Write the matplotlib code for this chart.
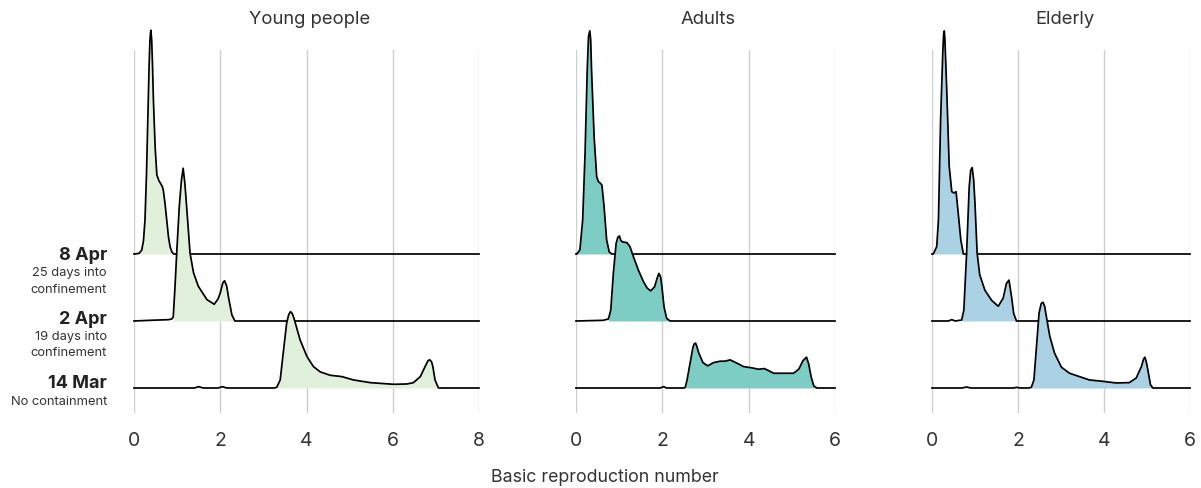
import matplotlib
matplotlib.use("Agg")
import matplotlib.pyplot as plt
import matplotlib.transforms as mtransforms
import numpy as np

plt.rcParams['font.family'] = ['Inter', 'DejaVu Sans']

# ---------------- data ----------------
panel_titles = ["Young people", "Adults", "Elderly"]
panel_xmax = [8, 6, 6]
panel_ticks = [[0, 2, 4, 6, 8], [0, 2, 4, 6], [0, 2, 4, 6]]
panel_colors = ["#e0f0da", "#7ecdc4", "#aad2e4"]
dates = ["14 Mar", "2 Apr", "8 Apr"]
notes_lines = [["No containment"], ["19 days into", "confinement"], ["25 days into", "confinement"]]

# Young people
young_mar14_x = [0, 1.40, 1.50, 1.60, 1.95, 2.05, 2.15, 3.25, 3.31, 3.39, 3.46, 3.54, 3.59, 3.63, 3.67, 3.71, 3.78, 3.85, 4.01, 4.16, 4.32, 4.55, 4.82, 5.09, 5.48, 6.02, 6.33, 6.48, 6.64, 6.75, 6.82, 6.86, 6.90, 6.93, 6.98, 7.06, 8]
young_mar14_h = [0, 0, 0.02, 0, 0, 0.02, 0, 0, 0.01, 0.12, 0.52, 0.97, 1.10, 1.14, 1.11, 1.04, 0.88, 0.72, 0.47, 0.32, 0.24, 0.19, 0.17, 0.12, 0.08, 0.055, 0.06, 0.08, 0.17, 0.32, 0.41, 0.42, 0.39, 0.32, 0.12, 0.0, 0]
young_apr2_x = [0, 0.37, 0.80, 0.875, 0.91, 0.95, 0.99, 1.05, 1.10, 1.14, 1.18, 1.22, 1.30, 1.38, 1.49, 1.69, 1.86, 1.95, 2.00, 2.06, 2.10, 2.15, 2.19, 2.27, 2.34, 8]
young_apr2_h = [0, 0.01, 0.02, 0.03, 0.06, 0.5, 1.01, 1.71, 2.10, 2.28, 2.05, 1.71, 1.01, 0.72, 0.52, 0.32, 0.25, 0.33, 0.42, 0.57, 0.60, 0.52, 0.36, 0.09, 0, 0]
young_apr8_x = [0, 0.02, 0.12, 0.18, 0.22, 0.255, 0.29, 0.32, 0.35, 0.37, 0.39, 0.41, 0.43, 0.45, 0.49, 0.53, 0.58, 0.62, 0.66, 0.68, 0.72, 0.76, 0.80, 0.84, 0.88, 0.92, 8]
young_apr8_h = [0, 0, 0.01, 0.06, 0.2, 0.51, 1.2, 2.0, 2.8, 3.2, 3.34, 3.2, 2.8, 2.3, 1.6, 1.18, 1.09, 1.05, 1.0, 0.95, 0.75, 0.5, 0.25, 0.1, 0.03, 0, 0]

# Adults
adults_mar14_x = [0, 1.95, 2.03, 2.10, 2.50, 2.53, 2.57, 2.645, 2.71, 2.74, 2.77, 2.80, 2.84, 2.94, 3.05, 3.19, 3.34, 3.45, 3.57, 3.73, 3.88, 4.08, 4.23, 4.36, 4.46, 4.58, 4.77, 5.04, 5.16, 5.26, 5.34, 5.39, 5.45, 5.51, 5.58, 6]
adults_mar14_h = [0, 0, 0.02, 0, 0, 0.01, 0.11, 0.38, 0.61, 0.66, 0.67, 0.62, 0.53, 0.38, 0.33, 0.38, 0.40, 0.40, 0.42, 0.37, 0.32, 0.30, 0.28, 0.29, 0.26, 0.22, 0.22, 0.22, 0.28, 0.41, 0.46, 0.36, 0.16, 0.03, 0, 0]
adults_apr2_x = [0, 0.63, 0.75, 0.805, 0.865, 0.93, 0.97, 1.005, 1.04, 1.08, 1.18, 1.25, 1.33, 1.445, 1.56, 1.65, 1.73, 1.82, 1.88, 1.92, 1.96, 1.99, 2.04, 2.10, 2.18, 6]
adults_apr2_h = [0, 0.01, 0.03, 0.16, 0.71, 1.16, 1.25, 1.27, 1.20, 1.18, 1.17, 1.11, 0.96, 0.76, 0.59, 0.49, 0.45, 0.51, 0.64, 0.71, 0.66, 0.51, 0.21, 0.04, 0, 0]
adults_apr8_x = [0, 0.02, 0.09, 0.155, 0.21, 0.26, 0.29, 0.32, 0.34, 0.36, 0.42, 0.48, 0.52, 0.56, 0.60, 0.65, 0.71, 0.77, 0.83, 6]
adults_apr8_h = [0, 0, 0.06, 0.51, 1.51, 2.75, 3.25, 3.33, 3.20, 2.75, 1.75, 1.15, 1.08, 1.06, 1.03, 0.71, 0.21, 0.03, 0, 0]

# Elderly
elderly_mar14_x = [0, 0.70, 0.805, 0.90, 1.90, 1.965, 2.05, 2.25, 2.31, 2.37, 2.43, 2.49, 2.54, 2.58, 2.62, 2.645, 2.74, 2.85, 3.01, 3.20, 3.43, 3.66, 3.97, 4.285, 4.59, 4.75, 4.87, 4.92, 4.95, 4.98, 5.02, 5.08, 5.135, 6]
elderly_mar14_h = [0, 0, 0.015, 0, 0, 0.01, 0, 0, 0.01, 0.12, 0.62, 1.12, 1.26, 1.28, 1.22, 1.12, 0.77, 0.52, 0.31, 0.22, 0.17, 0.12, 0.10, 0.075, 0.08, 0.15, 0.32, 0.43, 0.46, 0.40, 0.27, 0.05, 0, 0]
elderly_apr2_x = [0, 0.38, 0.46, 0.54, 0.69, 0.74, 0.805, 0.865, 0.90, 0.935, 0.97, 1.00, 1.05, 1.11, 1.23, 1.385, 1.54, 1.655, 1.73, 1.79, 1.85, 1.90, 1.965, 6]
elderly_apr2_h = [0, 0, 0.02, 0, 0.015, 0.16, 1.01, 2.0, 2.25, 2.29, 2.1, 1.75, 1.01, 0.69, 0.46, 0.31, 0.22, 0.34, 0.56, 0.61, 0.36, 0.11, 0, 0]
elderly_apr8_x = [0, 0.03, 0.11, 0.15, 0.20, 0.25, 0.27, 0.285, 0.30, 0.34, 0.40, 0.46, 0.51, 0.56, 0.61, 0.67, 0.73, 6]
elderly_apr8_h = [0, 0, 0.11, 0.51, 2.0, 2.99, 3.28, 3.33, 3.2, 2.5, 1.31, 0.93, 0.91, 0.93, 0.61, 0.21, 0, 0]

# shaded interval (low, high) per curve, order: 14 Mar, 2 Apr, 8 Apr
young_fill = [(3.31, 7.06), (0.91, 2.34), (0.12, 0.88)]
adults_fill = [(2.53, 5.58), (0.75, 2.18), (0.02, 0.83)]
elderly_fill = [(2.31, 5.135), (0.69, 1.965), (0.03, 0.73)]

curves = [
    [(young_mar14_x, young_mar14_h), (young_apr2_x, young_apr2_h), (young_apr8_x, young_apr8_h)],
    [(adults_mar14_x, adults_mar14_h), (adults_apr2_x, adults_apr2_h), (adults_apr8_x, adults_apr8_h)],
    [(elderly_mar14_x, elderly_mar14_h), (elderly_apr2_x, elderly_apr2_h), (elderly_apr8_x, elderly_apr8_h)],
]
fills = [young_fill, adults_fill, elderly_fill]

# ---------------- layout ----------------
W, H = 1201, 488
fig = plt.figure(figsize=(W / 100, H / 100), dpi=100)

ax_left_px = [134, 576, 932]
ax_w_px = [345, 259, 258]
ax_top_px, ax_bot_px = 50, 413
px_per_unit = 67.0
base_px = 388.0
ylo = -(ax_bot_px - base_px) / px_per_unit
yhi = (base_px - ax_top_px) / px_per_unit
title_x = [0.51, 0.511, 0.514]

axes = []
for i in range(3):
    ax = fig.add_axes([ax_left_px[i] / W, 1 - ax_bot_px / H, ax_w_px[i] / W, (ax_bot_px - ax_top_px) / H])
    axes.append(ax)
    ax.set_xlim(0, panel_xmax[i])
    ax.set_ylim(ylo, yhi)
    for s in ax.spines.values():
        s.set_visible(False)
    ax.set_xticks(panel_ticks[i])
    ax.set_xticklabels([str(t) for t in panel_ticks[i]])
    ax.tick_params(axis='x', length=0, pad=14, labelsize=14, labelcolor='#333333')
    ax.set_yticks([])
    ax.grid(axis='x', color='#cfcfcf', linewidth=1.0)
    ax.set_axisbelow(True)
    ax.text(title_x[i], 1 + 30 / (ax_bot_px - ax_top_px), panel_titles[i], transform=ax.transAxes,
            ha='center', va='center', fontsize=13.3, color='#333333')

    for j in range(3):
        xs = np.array(curves[i][j][0], dtype=float)
        hs = np.array(curves[i][j][1], dtype=float)
        base = float(j)
        z = 10 - 2 * j
        lo, hi = fills[i][j]
        mask = (xs >= lo) & (xs <= hi)
        ax.fill_between(xs, base, base + hs, where=mask, color=panel_colors[i],
                        linewidth=0, zorder=z, clip_on=False)
        ax.plot(xs, base + hs, color='black', linewidth=1.25, zorder=z + 1,
                clip_on=False, solid_joinstyle='round')

# left labels
ax0 = axes[0]
trans = mtransforms.blended_transform_factory(ax0.transAxes, ax0.transData)
lab_x = (107 - 134) / 345
bold_py = [383, 319, 255]
note_py = [[402], [337, 353], [273, 290]]
for j in range(3):
    ax0.text(lab_x, (base_px - bold_py[j]) / px_per_unit, dates[j], transform=trans,
             ha='right', va='center', fontsize=13, fontweight='bold', color='#222222')
    for k, line in enumerate(notes_lines[j]):
        ax0.text(lab_x, (base_px - note_py[j][k]) / px_per_unit, line, transform=trans,
                 ha='right', va='center', fontsize=9.3, color='#333333')

fig.text(605 / W, 1 - 477 / H, "Basic reproduction number", ha='center', va='center',
         fontsize=12.8, color='#333333')

fig.savefig("out.png", dpi=100)
